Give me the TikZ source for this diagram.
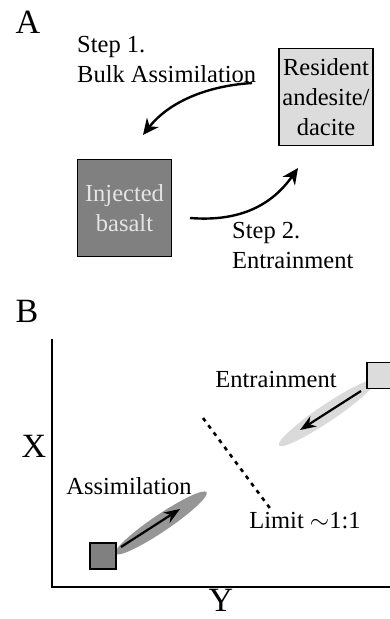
\documentclass[tikz,border=0pt]{standalone}
\usepackage{fontspec}
\setmainfont{Liberation Serif}
\usetikzlibrary{arrows.meta}
\definecolor{darkbox}{RGB}{128,128,128}
\definecolor{lightbox}{RGB}{220,220,220}
\definecolor{darkhalo}{RGB}{150,150,150}
\definecolor{lighthalo}{RGB}{218,218,218}
\definecolor{paletext}{RGB}{228,228,228}

\begin{document}
\begin{tikzpicture}[x=1pt,y=-1pt,
    boxnode/.style={draw=black, line width=1.1pt, minimum width=94pt, minimum height=97pt, inner sep=0pt, align=center, font=\fontsize{24.5}{30}\selectfont},
    smallbox/.style={draw=black, line width=1.1pt, minimum size=26pt, inner sep=0pt},
    label/.style={font=\fontsize{24.5}{30}\selectfont, inner sep=0pt},
    panel/.style={font=\fontsize{34}{36}\selectfont, inner sep=0pt},
    bigarrow/.style={line width=2.4pt, -{Stealth[length=16pt,width=15pt]}},
    thinarrow/.style={line width=2.2pt, -{Stealth[length=16pt,width=12pt]}}]
    \useasboundingbox (0,0) rectangle (390,619);

    % Panel A
    \node[panel] (pa) at (28,22.5) {A};
    \node[boxnode, fill=lightbox] (resident) at (326,97) {Resident\\andesite/\\dacite};
    \node[boxnode, fill=darkbox, text=paletext] (basalt) at (124.5,208) {Injected\\basalt};
    \node[label, anchor=north west, align=left] (step1) at (77,36) {Step 1.\\Bulk Assimilation};
    \node[label, anchor=north west, align=left] (step2) at (232,222) {Step 2.\\Entrainment};
    \coordinate (s1a) at (252,83);
    \coordinate (s1b) at (143,135);
    \coordinate (s2a) at (190,218);
    \coordinate (s2b) at (298,168);
    \draw[bigarrow] (s1a) .. controls (205,86) and (168,103) .. (s1b);
    \draw[bigarrow] (s2a) .. controls (240,222) and (272,205) .. (s2b);

    % Panel B
    \node[panel] (pb) at (27,311.5) {B};
    \coordinate (origin) at (52,587);
    \coordinate (ytop) at (52,339);
    \coordinate (xend) at (392,587);
    \draw[line width=2.4pt] (ytop) -- (origin) -- (xend);
    \node[panel] (xlab) at (34,446.5) {X};
    \node[panel] (ylab) at (221,600) {Y};

    % halos
    \fill[darkhalo] (161,523) ellipse [x radius=55pt, y radius=8.5pt, rotate=34];
    \fill[lighthalo] (327,413) ellipse [x radius=58pt, y radius=8.5pt, rotate=34];

    \node[smallbox, fill=darkbox] (asq) at (103,556) {};
    \node[smallbox, fill=lightbox] (esq) at (380,375.5) {};
    \coordinate (aa) at (121,547);
    \coordinate (ab) at (180,509);
    \coordinate (ea) at (361,391);
    \coordinate (eb) at (300,430);
    \draw[thinarrow] (aa) -- (ab);
    \draw[thinarrow] (ea) -- (eb);

    \node[label] (assim) at (129,486) {Assimilation};
    \node[label] (entr) at (276,380) {Entrainment};
    \node[label] (limit) at (305,521) {Limit ${\sim}$1:1};
    \coordinate (la) at (203,418);
    \coordinate (lb) at (272,511);
    \draw[line width=2.6pt, dash pattern=on 4pt off 5pt] (la) -- (lb);
\end{tikzpicture}
\end{document}
